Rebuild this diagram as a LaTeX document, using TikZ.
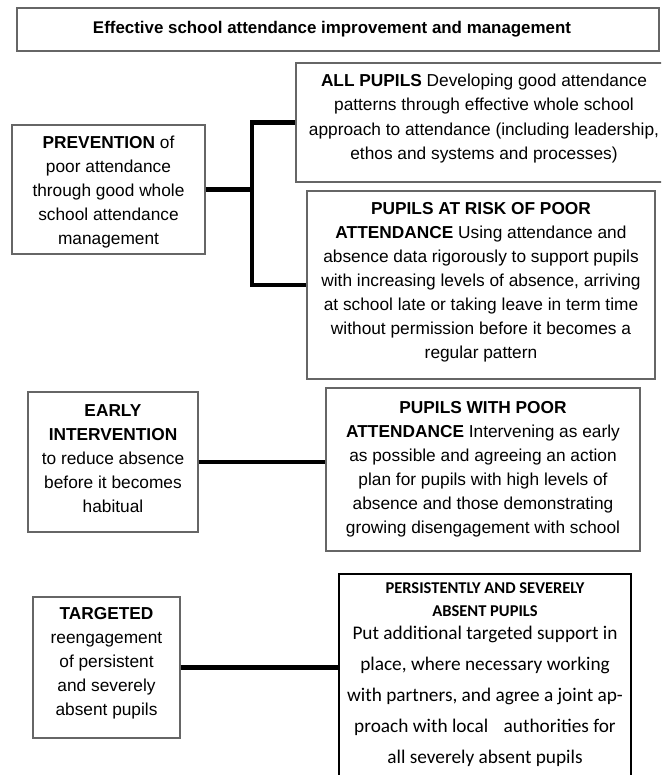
\documentclass[tikz,border=0pt]{standalone}
\usepackage{fontspec}
\setmainfont{Liberation Sans}
\newfontfamily\calibrifont{Carlito}

% struts to nudge the text inside a box
\newcommand{\lowstrut}[1]{\rule[-#1]{0pt}{#1}}
\newcommand{\highstrut}[1]{\rule{0pt}{#1}}

\tikzset{
  box/.style={draw=black!60, line width=1.2pt, rectangle, align=center, inner sep=0pt,
    font=\fontsize{17.3}{24}\selectfont},
  link/.style={line width=4.2pt},
}

\begin{document}
\begin{tikzpicture}[x=1pt,y=-1pt]
  \useasboundingbox (0,0) rectangle (661,775);
  \clip (0,0) rectangle (661,775);
  % heading
  \node[box, minimum width=642, minimum height=43, font=\bfseries\fontsize{16.9}{20}\selectfont] (title) at (338,29.5)
    {Effective school attendance improvement and management\kern12pt};

  % prevention
  \node[box, minimum width=193, minimum height=129] (prev) at (108.5,189.5)
    {\highstrut{16.6pt}\textbf{PREVENTION} of\\poor attendance\\through good whole\\school attendance\\management};
  \node[box, minimum width=376, minimum height=119, font=\fontsize{17.3}{24.6}\selectfont] (all) at (484,122.5)
    {\textbf{ALL PUPILS} Developing good attendance\\patterns through effective whole school\\approach to attendance (including leadership,\\ethos and systems and processes)\lowstrut{11.6pt}};
  \node[box, minimum width=348, minimum height=188] (risk) at (481,285)
    {\textbf{PUPILS AT RISK OF POOR}\\\textbf{ATTENDANCE} Using attendance and\\absence data rigorously to support pupils\\with increasing levels of absence, arriving\\at school late or taking leave in term time\\without permission before it becomes a\\regular pattern\lowstrut{9.6pt}};
  \coordinate (fork) at (252,189.5);
  \draw[link] (prev.east) -- (fork);
  \draw[link] (all.west) -| (fork) |- (risk.west);

  % early intervention
  \node[box, minimum width=170, minimum height=140] (early) at (113,462)
    {\textbf{EARLY}\\\textbf{INTERVENTION}\\to reduce absence\\before it becomes\\habitual\lowstrut{7pt}};
  \node[box, minimum width=314, minimum height=163] (poor) at (483,469.5)
    {\textbf{PUPILS WITH POOR}\\\textbf{ATTENDANCE} Intervening as early\\as possible and agreeing an action\\plan for pupils with high levels of\\absence and those demonstrating\\growing disengagement with school};
  \draw[link] (early.east) -- (early.east -| poor.west);

  % targeted
  \node[box, minimum width=147, minimum height=141] (target) at (106.5,667.5)
    {\textbf{TARGETED}\\reengagement\\of persistent\\and severely\\absent pupils\lowstrut{12.6pt}};
  \node[box, draw=black, line width=1.6pt, anchor=north, minimum width=292, inner ysep=9pt,
    font=\calibrifont\fontsize{19.3}{31}\selectfont] (persist) at (485,573)
    {{\bfseries\fontsize{16.5}{18}\selectfont PERSISTENTLY AND SEVERELY}\\[-8pt]
     {\bfseries\fontsize{16.5}{18}\selectfont ABSENT PUPILS}\\[-8.5pt]
     Put additional targeted support in\\place, where necessary working\\with partners, and agree a joint ap-\\proach with local\hspace{0.8em}authorities for\\all severely absent pupils\lowstrut{30pt}};
  \draw[link] (target.east) -- (target.east -| persist.west);
\end{tikzpicture}
\end{document}
